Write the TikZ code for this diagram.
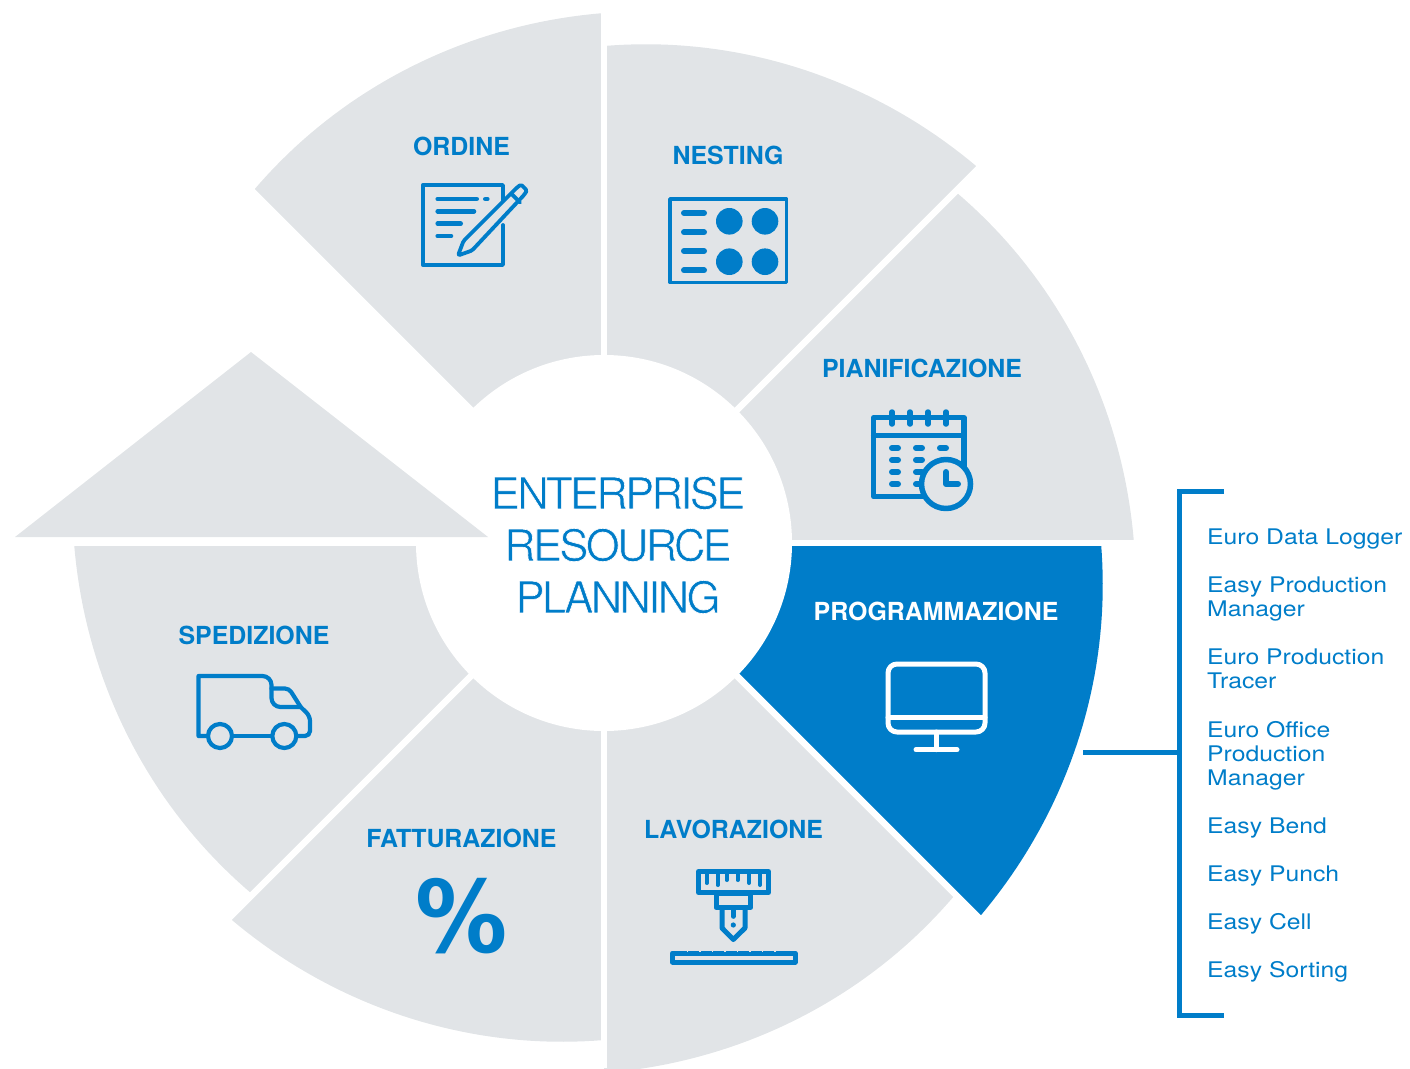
\documentclass[tikz,border=0pt]{standalone}
\usepackage{fontspec}
\setmainfont{TeX Gyre Heros}
\newfontfamily\percentfont{DejaVu Sans}
\tikzset{
  steplabel/.style={font=\bfseries\fontsize{24.9}{28}\selectfont,text=cblue,inner sep=0pt},
  listitem/.style={font=\fontsize{21.5}{24}\selectfont,text=cblue,anchor=west,align=left,inner sep=0pt,text height=18,text depth=6,xscale=1.15},
  iconline/.style={draw=cblue,line width=3.8,line cap=round,line join=round},
  iconbar/.style={draw=cblue,line width=4.6,line cap=round},
  whiteline/.style={draw=white,line width=5,line cap=round,line join=round},
  gapline/.style={draw=white,line width=6.5},
}
\begin{document}
\begin{tikzpicture}[x=1pt,y=-1pt]
\definecolor{cblue}{rgb}{0.0,0.49,0.79}
\definecolor{cgrey}{rgb}{0.882,0.894,0.906}
\useasboundingbox (0,0) rectangle (1410,1068);
\clip (0,0) rectangle (1410,1068);
%
\foreach \a/\cs in {-135/cgrey,-90/cgrey,-45/cgrey,0/cblue,45/cgrey,90/cgrey,135/cgrey}
  \fill[\cs] (604,543) -- plot[domain=\a:\a+45,samples=40,variable=\t]
    ({604+(497+33*(\t-\a)/45)*cos(\t)},{543+(497+33*(\t-\a)/45)*sin(\t)}) -- cycle;
%
\coordinate (hub) at (604,543);
\draw[gapline,line width=6] (604,0) -- (604,1068);
\draw[gapline,line width=6] (60,543) -- (1150,543);
\draw[gapline] (hub) -- (1000,147);
\draw[gapline] (hub) -- (1000,939);
\draw[gapline] (hub) -- (210,937);
\draw[gapline] (hub) -- (240,179);
\fill[white] (hub) circle (188);
\fill[cgrey] (15,537) -- (251,352) -- (488,537) -- cycle;
%
\node[font=\fontsize{43.5}{52}\selectfont\addfontfeatures{LetterSpace=-6},text=cblue,align=center,inner sep=0pt] (title) at (618,545) {\special{pdf:code 2 Tr 0.6 w 1 1 1 RG}ENTERPRISE\\RESOURCE\\PLANNING\special{pdf:code 0 Tr 0 w}};
%
\node[steplabel] (ordine) at (461.5,146) {ORDINE};
\node[steplabel] (nesting) at (728,155) {NESTING};
\node[steplabel] (pianificazione) at (922,368) {PIANIFICAZIONE};
\node[steplabel,text=white] (programmazione) at (936,611) {PROGRAMMAZIONE};
\node[steplabel] (lavorazione) at (733.5,829) {LAVORAZIONE};
\node[steplabel] (fatturazione) at (461.5,838) {FATTURAZIONE};
\node[steplabel] (spedizione) at (254,635) {SPEDIZIONE};
\node[font=\percentfont\bfseries\fontsize{100}{100}\selectfont,text=cblue,inner sep=0pt,xscale=0.92] (percent) at (461.5,916) {\%};
%
% ordine icon
\draw[iconline] (503,200) -- (503,185) -- (422.7,185) -- (422.7,265) -- (503,265) -- (503,225);
\foreach \yy/\xe in {199/476.7,211.3/474,223.7/460.7,236/451}
  \draw[iconbar] (437.7,\yy) -- (\xe,\yy);
\draw[iconbar] (485.3,199) -- (487.3,199);
\draw[iconline,fill=cgrey,rounded corners=1.5] (458,255.5) -- (463.5,241) -- (517,187.5) -- (521,184.5) -- (527,190.5) -- (524,195) -- (472,250.5) -- cycle;
\draw[iconline] (511.7,194) -- (520,202.5);
%
% nesting icon
\draw[iconline] (670,199) rectangle (786.5,282.5);
\foreach \cx/\cy in {729.3/221.3,765/221.3,729.3/261.7,765/261.7}
  \fill[cblue] (\cx,\cy) circle (13.3);
\foreach \yy in {213,232.3,251,270.3}
  \draw[iconbar,line width=6] (684,\yy) -- (704,\yy);
%
% pianificazione icon
\draw[iconline,line width=5.5] (873.7,417.7) rectangle (964,496.5);
\draw[iconline,line width=5.5] (873.7,435.7) -- (964,435.7);
\foreach \xx in {892,910,928,946}
  \draw[iconbar,line width=5.5] (\xx,412) -- (\xx,424);
\foreach \xx/\yy in {895/448,919/448,943/448,895/460,919/460,895/472,919/472,895/484,919/484}
  \draw[iconbar,line width=6] (\xx-3,\yy) -- (\xx+3,\yy);
\draw[iconline,line width=5.5,fill=cgrey] (946,484) circle (24.5);
\draw[iconline,line width=6] (946,472) -- (946,484) -- (958,484);
%
% programmazione icon
\draw[iconline,draw=white,line width=5,rounded corners=9] (888,664) rectangle (985,732);
\draw[whiteline] (888,717.3) -- (985,717.3);
\draw[whiteline] (936,732) -- (936,749.7);
\draw[whiteline] (916,749.7) -- (957,749.7);
%
% lavorazione icon
\draw[iconline,line width=5] (698.5,871.5) rectangle (768.5,892.5);
\foreach \xx/\ye in {706.7/883,717.7/885,726.7/880,737.7/880,749/883,760/885}
  \draw[iconbar,line width=4] (\xx,872) -- (\xx,\ye);
\draw[iconline,line width=5] (716,893) rectangle (750.7,907.5);
\draw[iconline,line width=5] (722,908) -- (722,928) -- (733.3,939.5) -- (745,928) -- (745,908);
\draw[iconbar] (733.3,909) -- (733.3,916.5);
\fill[cblue] (733.3,925) circle (2.6);
\draw[iconline,line width=5] (672.5,953) rectangle (795,962);
\foreach \xx in {687.5,700,712.5,725,737.5,750,762.5,775}
  \draw[cgrey,line width=1.2] (\xx,950) -- (\xx,951.5);
%
% spedizione icon
\draw[iconline,line width=4.2] (208,736) -- (198.5,736) -- (198.5,676) [rounded corners=9] -- (271.5,676) -- (271.5,707) [sharp corners] -- (300.7,707) [rounded corners=5] -- (310,716) -- (310,736) [sharp corners] -- (296.5,736);
\draw[iconline,line width=4.2,rounded corners=4] (271.5,688.5) -- (289,688.5) -- (300.7,707);
\draw[iconline,line width=4.2] (232,736) -- (272,736);
\draw[iconline,line width=4.2] (220,736) circle (12);
\draw[iconline,line width=4.2] (284.3,736) circle (12);
%
% software list
\coordinate (tap) at (1083,752.5);
\coordinate (brtop) at (1224,491);
\coordinate (brtopleft) at (1179,491);
\coordinate (brbotleft) at (1179,1015);
\coordinate (brbot) at (1224,1015);
\coordinate (brmid) at (1179,752.5);
\draw[cblue,line width=5] (brtop) -- (brtopleft) -- (brbotleft) -- (brbot);
\draw[cblue,line width=5] (tap) -- (brmid);
\node[listitem] (l0) at (1207,538) {Euro Data Logger};
\node[listitem] (l1) at (1207,610) {Easy Production\\Manager};
\node[listitem] (l2) at (1207,682) {Euro Production\\Tracer};
\node[listitem] (l3) at (1207,779) {Euro Office\\Production\\Manager};
\node[listitem] (l4) at (1207,827) {Easy Bend};
\node[listitem] (l5) at (1207,875) {Easy Punch};
\node[listitem] (l6) at (1207,923) {Easy Cell};
\node[listitem] (l7) at (1207,971) {Easy Sorting};
%
\end{tikzpicture}
\end{document}
